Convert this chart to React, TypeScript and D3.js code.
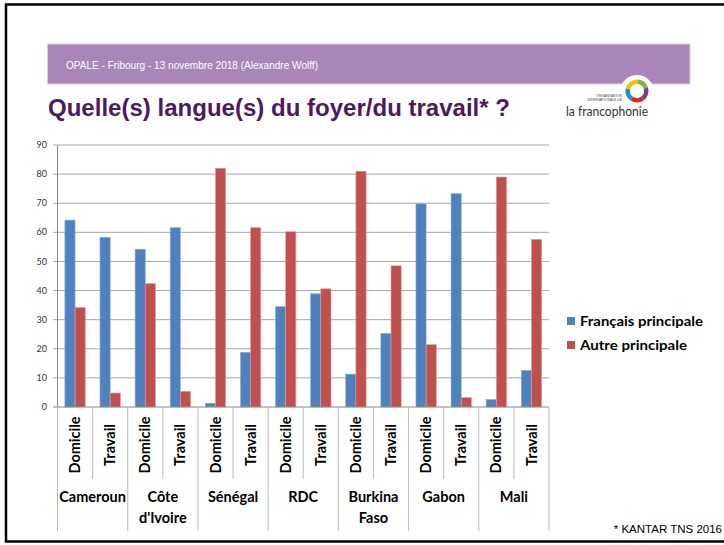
import React from "react";
import * as d3 from "d3";

const countries = ["Cameroun", "Côte d'Ivoire", "Sénégal", "RDC", "Burkina Faso", "Gabon", "Mali"];
const contexts = ["Domicile", "Travail"];
const francais = [64.2, 58.3, 54.2, 61.6, 1.3, 18.8, 34.5, 38.9, 11.3, 25.3, 69.8, 73.3, 2.6, 12.6];
const autre = [34.2, 4.8, 42.4, 5.4, 82.0, 61.6, 60.2, 40.6, 81.0, 48.5, 21.4, 3.2, 79.0, 57.6];
const seriesNames = ["Français principale", "Autre principale"];
const seriesColors = ["#4F81BD", "#C0504D"];
const seriesStroke = ["#8db0dc", "#e69a98"];
const yTicks = [0, 10, 20, 30, 40, 50, 60, 70, 80, 90];

const W = 724;
const H = 545;
const plotLeft = 57.5;
const plotRight = 549;
const plotTop = 145;
const plotBottom = 407;

export default function App() {
  const keys: string[] = [];
  countries.forEach((c) => contexts.forEach((s) => keys.push(c + "|" + s)));
  const x0 = d3.scaleBand<string>().domain(keys).range([plotLeft, plotRight]).paddingInner(0).paddingOuter(0);
  const bw = x0.bandwidth();
  const x1 = d3.scaleBand<string>().domain(seriesNames).range([bw * 0.21, bw * 0.79]).padding(0);
  const y = d3.scaleLinear().domain([0, 90]).range([plotBottom, plotTop]);
  const groupW = bw * contexts.length;

  const ringArc = d3.arc<any>().innerRadius(7).outerRadius(11.5);
  const ringSegs = [
    { a0: 0.1, a1: 1.25, c: "#7DBA3C" },
    { a0: 1.25, a1: 2.5, c: "#7B3F98" },
    { a0: 2.5, a1: 3.75, c: "#E2231A" },
    { a0: 3.75, a1: 4.95, c: "#1C8FD0" },
    { a0: 4.95, a1: 6.38, c: "#F5C400" },
  ];
  const legendLens = [123, 107];

  return (
    <svg width={W} height={H} style={{ position: "absolute", left: 0, top: 0, background: "#fff" }}>
      {/* frame */}
      <rect x={6} y={4.5} width={740} height={537} fill="#fff" stroke="#000" strokeWidth={2.5} />
      {/* purple band */}
      <rect x={47.5} y={44} width={642.5} height={40} fill="#A986BA" stroke="#dccbe3" strokeWidth={1} />
      <text x={66} y={69} fill="#fff" fontFamily="Liberation Sans, Arial, sans-serif" fontSize={10} textLength={252} lengthAdjust="spacingAndGlyphs">
        OPALE - Fribourg - 13 novembre 2018 (Alexandre Wolff)
      </text>
      {/* logo */}
      <circle cx={637} cy={92} r={17} fill="#fff" />
      <g transform="translate(637,91)">
        {ringSegs.map((s, i) => (
          <path key={i} d={ringArc({ startAngle: s.a0, endAngle: s.a1 }) as string} fill={s.c} />
        ))}
      </g>
      <text x={622} y={97} textAnchor="end" fontFamily="Liberation Sans, Arial, sans-serif" fontSize={3.4} fill="#444">ORGANISATION</text>
      <text x={622} y={101} textAnchor="end" fontFamily="Liberation Sans, Arial, sans-serif" fontSize={3.4} fill="#444">INTERNATIONALE DE</text>
      <text x={566} y={115.5} fontFamily="Lato, sans-serif" fontSize={12.5} fill="#333" textLength={82} lengthAdjust="spacingAndGlyphs">la francophonie</text>
      {/* title */}
      <text x={48} y={116} fill="#4B1A60" fontFamily="Liberation Sans, Arial, sans-serif" fontWeight="bold" fontSize={24} textLength={462} lengthAdjust="spacingAndGlyphs">
        Quelle(s) langue(s) du foyer/du travail* ?
      </text>

      {/* gridlines and y axis */}
      {yTicks.map((t) => (
        <g key={t}>
          {t > 0 && <line x1={53} x2={plotRight} y1={y(t)} y2={y(t)} stroke="#A6A6A6" strokeWidth={1} />}
          {t === 0 && <line x1={53} x2={plotLeft} y1={y(t)} y2={y(t)} stroke="#888" strokeWidth={1} />}
          <text x={47} y={y(t)} dy="0.35em" textAnchor="end" fontFamily="Lato, sans-serif" fontSize={9} fill="#333">
            {t}
          </text>
        </g>
      ))}
      <line x1={plotLeft} x2={plotLeft} y1={plotTop} y2={plotBottom} stroke="#888" strokeWidth={1} />

      {/* bars */}
      {keys.map((k, i) => (
        <g key={k} transform={`translate(${x0(k)},0)`}>
          {[francais[i], autre[i]].map((v, si) => (
            <rect
              key={si}
              x={x1(seriesNames[si])}
              y={y(v)}
              width={x1.bandwidth()}
              height={y(0) - y(v)}
              fill={seriesColors[si]}
              stroke={seriesStroke[si]}
              strokeWidth={0.6}
            />
          ))}
        </g>
      ))}
      <line x1={plotLeft} x2={plotRight} y1={plotBottom} y2={plotBottom} stroke="#888" strokeWidth={1} />

      {/* category separators */}
      {keys.map((k, i) => (
        <line key={"s" + k} x1={x0(k)} x2={x0(k)} y1={plotBottom} y2={i % 2 === 0 ? 531 : 479} stroke="#BBBBBB" strokeWidth={1} />
      ))}
      <line x1={plotRight} x2={plotRight} y1={plotBottom} y2={531} stroke="#BBBBBB" strokeWidth={1} />

      {/* sub labels */}
      {keys.map((k) => {
        const cx = (x0(k) as number) + bw / 2;
        const label = k.split("|")[1];
        return (
          <text
            key={"l" + k}
            transform={`translate(${cx},445) rotate(-90)`}
            textAnchor="middle"
            dy="0.35em"
            fontFamily="Lato, sans-serif"
            fontWeight="bold"
            fontSize={14.5}
            fill="#000"
          >
            {label}
          </text>
        );
      })}

      {/* group labels */}
      {countries.map((c) => {
        const gx = (x0(c + "|" + contexts[0]) as number) + groupW / 2;
        const lines = c.split(" ");
        return (
          <text key={"g" + c} textAnchor="middle" fontFamily="Lato, sans-serif" fontWeight="bold" fontSize={14.5} fill="#000">
            {lines.map((ln, li) => (
              <tspan key={li} x={gx} y={501.5 + li * 21.5}>
                {ln}
              </tspan>
            ))}
          </text>
        );
      })}

      {/* legend */}
      {seriesNames.map((s, i) => (
        <g key={s} transform={`translate(567,${317 + i * 24})`}>
          <rect x={0} y={0} width={8} height={8} fill={seriesColors[i]} />
          <text x={13} y={8.8} fontFamily="Lato, sans-serif" fontWeight="bold" fontSize={13.5} fill="#000" textLength={legendLens[i]} lengthAdjust="spacingAndGlyphs">
            {s}
          </text>
        </g>
      ))}

      {/* footer */}
      <text x={722} y={533} textAnchor="end" fontFamily="Liberation Sans, Arial, sans-serif" fontSize={11.5} fill="#000">
        * KANTAR TNS 2016
      </text>
    </svg>
  );
}
